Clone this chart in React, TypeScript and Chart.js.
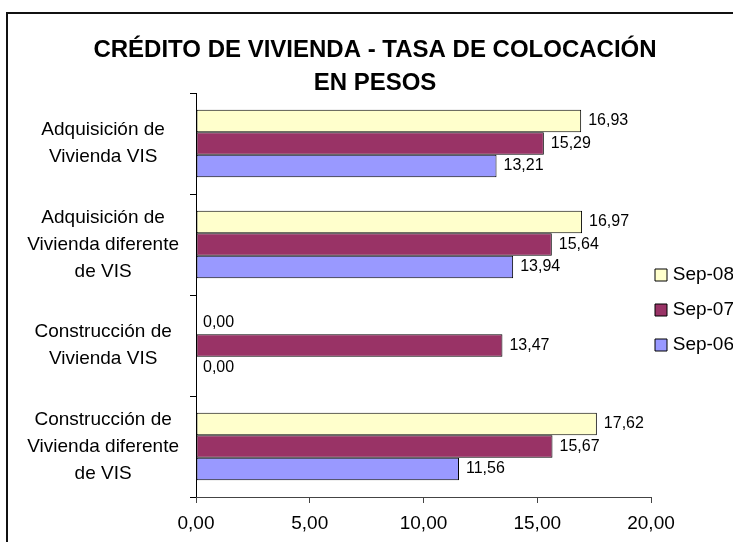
import React, { useEffect, useRef } from "react";
import { Chart, registerables } from "chart.js";

Chart.register(...registerables);

const categories: string[][] = [
  ["Adquisición de", "Vivienda VIS"],
  ["Adquisición de", "Vivienda diferente", "de VIS"],
  ["Construcción de", "Vivienda VIS"],
  ["Construcción de", "Vivienda diferente", "de VIS"],
];
const seriesLabels = ["Sep-08", "Sep-07", "Sep-06"];
const sep08 = [16.93, 16.97, 0.0, 17.62];
const sep07 = [15.29, 15.64, 13.47, 15.67];
const sep06 = [13.21, 13.94, 0.0, 11.56];
const xTicks = [0, 5, 10, 15, 20];
const titleLines = ["CRÉDITO DE VIVIENDA - TASA DE COLOCACIÓN", "EN PESOS"];

const FONT = "Arial, 'Liberation Sans', sans-serif";
const fmt = (v: number) => v.toFixed(2).replace(".", ",");

const valueLabels = {
  id: "valueLabels",
  afterDatasetsDraw(chart: any) {
    const ctx = chart.ctx;
    ctx.save();
    ctx.font = `16px ${FONT}`;
    ctx.fillStyle = "#000";
    ctx.textAlign = "left";
    ctx.textBaseline = "middle";
    chart.data.datasets.forEach((ds: any, di: number) => {
      const meta = chart.getDatasetMeta(di);
      meta.data.forEach((el: any, i: number) => {
        ctx.fillText(fmt(ds.data[i]), el.x + 7, el.y);
      });
    });
    ctx.restore();
  },
};

export default function App() {
  const ref = useRef<HTMLCanvasElement | null>(null);
  useEffect(() => {
    if (!ref.current) return;
    Chart.defaults.font.family = FONT;
    Chart.defaults.color = "#000";
    const colors = ["#FFFFCC", "#993366", "#9999FF"];
    const values = [sep08, sep07, sep06];
    const defaultGen = (Chart.defaults as any).plugins.legend.labels.generateLabels;
    const chart = new Chart(ref.current, {
      type: "bar",
      data: {
        labels: categories as any,
        datasets: seriesLabels.map((label, i) => ({
          label,
          data: values[i],
          backgroundColor: colors[i],
          borderColor: "#000",
          borderWidth: 1,
          borderSkipped: false,
          categoryPercentage: 0.667,
          barPercentage: 1,
        })),
      },
      options: {
        indexAxis: "y",
        animation: false,
        responsive: false,
        maintainAspectRatio: false,
        layout: { padding: { left: 8, top: 0, right: 14, bottom: 0 } },
        plugins: {
          tooltip: { enabled: false },
          title: {
            display: true,
            text: titleLines,
            color: "#000",
            font: { size: 24, weight: "bold", lineHeight: "33px" },
            padding: { top: 20.4, bottom: -6.4 },
          },
          legend: {
            display: true,
            position: "right",
            maxWidth: 83,
            labels: {
              boxWidth: 12,
              boxHeight: 12,
              padding: 4,
              color: "#000",
              textAlign: "right",
              font: { size: 19, lineHeight: "31px" },
              generateLabels: (c: any) =>
                defaultGen(c).map((it: any) => ({ ...it, text: [it.text] })),
            },
          },
        },
        scales: {
          y: {
            type: "category",
            offset: true,
            afterFit: (s: any) => {
              s.width = 180;
            },
            grid: {
              display: true,
              offset: true,
              drawOnChartArea: false,
              drawTicks: true,
              tickLength: 6,
              color: "#000",
            },
            border: { display: true, color: "#000", width: 1 },
            ticks: {
              crossAlign: "center",
              padding: 11,
              color: "#000",
              font: { size: 19, lineHeight: "27px" },
            },
          },
          x: {
            type: "linear",
            min: xTicks[0],
            max: xTicks[xTicks.length - 1],
            afterFit: (s: any) => {
              s.height = 122;
            },
            afterBuildTicks: (s: any) => {
              s.ticks = xTicks.map((v) => ({ value: v }));
            },
            grid: {
              display: true,
              drawOnChartArea: false,
              drawTicks: true,
              tickLength: 6,
              color: "#444",
            },
            border: { display: true, color: "#444", width: 1 },
            ticks: {
              padding: 9,
              maxRotation: 0,
              autoSkip: false,
              color: "#000",
              font: { size: 19 },
              callback: (v: any) => fmt(Number(v)),
            },
          },
        },
      } as any,
      plugins: [valueLabels],
    });
    return () => chart.destroy();
  }, []);

  return (
    <div
      style={{
        position: "fixed",
        left: 0,
        top: 0,
        width: 733,
        height: 542,
        overflow: "hidden",
        background: "#fff",
      }}
    >
      <div
        style={{
          position: "absolute",
          left: 6,
          top: 12,
          width: 900,
          height: 700,
          borderLeft: "2px solid #111",
          borderTop: "2px solid #111",
        }}
      />
      <canvas
        ref={ref}
        width={740}
        height={606}
        style={{ position: "absolute", left: 8, top: 13, width: 740, height: 606 }}
      />
    </div>
  );
}
